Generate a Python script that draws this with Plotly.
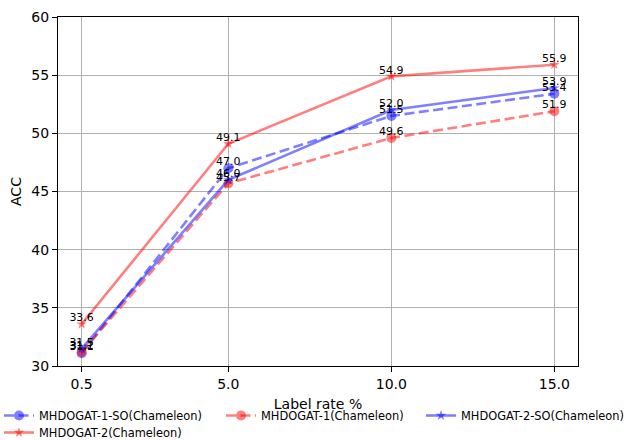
import plotly.graph_objects as go

label_rate = [0.5, 5.0, 10.0, 15.0]
tick_text = ["0.5", "5.0", "10.0", "15.0"]

mhdogat1_so = [31.1, 47.0, 51.5, 53.4]
mhdogat1 = [31.2, 45.7, 49.6, 51.9]
mhdogat2_so = [31.5, 46.0, 52.0, 53.9]
mhdogat2 = [33.6, 49.1, 54.9, 55.9]

series = [
    ("MHDOGAT-1-SO(Chameleon)", mhdogat1_so, "rgba(0,0,255,0.5)", "10px,4.5px", "circle", 10),
    ("MHDOGAT-1(Chameleon)", mhdogat1, "rgba(255,0,0,0.5)", "10px,4.5px", "circle", 10),
    ("MHDOGAT-2-SO(Chameleon)", mhdogat2_so, "rgba(0,0,255,0.5)", "solid", "star", 8),
    ("MHDOGAT-2(Chameleon)", mhdogat2, "rgba(255,0,0,0.5)", "solid", "star", 8),
]
legend_ids = ["legend", "legend2", "legend3", "legend4"]

# plot area in pixels
L, R, T, B = 58, 50, 17, 74
W, H = 628, 440
pw = W - L - R
ph = H - T - B

fig = go.Figure()
for (name, vals, color, dash, sym, size), lid in zip(series, legend_ids):
    fig.add_trace(go.Scatter(
        x=label_rate, y=vals, name=name, legend=lid,
        mode="lines+markers",
        line=dict(color=color, width=2.6, dash=dash),
        marker=dict(symbol=sym, size=size, color=color, line=dict(width=0)),
    ))
for name, vals, color, dash, sym, size in series:
    fig.add_trace(go.Scatter(
        x=label_rate, y=vals, mode="text", showlegend=False,
        text=[f"{v:.1f}" for v in vals],
        textposition="top center", hoverinfo="skip",
        textfont=dict(size=11, color="black", family="DejaVu Sans"),
    ))

def leg(px, py):
    return dict(
        orientation="h", x=(px - L) / pw, xanchor="left",
        y=-(py - (H - B)) / ph, yanchor="top",
        font=dict(size=11.4), itemwidth=30, tracegroupgap=0,
        bgcolor="rgba(0,0,0,0)", borderwidth=0,
    )

fig.update_layout(
    width=W, height=H,
    margin=dict(l=L, r=R, t=T, b=B, autoexpand=False),
    paper_bgcolor="white", plot_bgcolor="white",
    font=dict(family="DejaVu Sans", size=13, color="black"),
    legend=leg(-1, 401),
    legend2=leg(221, 401),
    legend3=leg(421, 401),
    legend4=leg(-1, 418),
    showlegend=True,
)
fig.update_xaxes(
    range=[-0.225, 15.725], tickvals=label_rate, ticktext=tick_text,
    showgrid=True, gridcolor="#b0b0b0", gridwidth=1,
    showline=True, linecolor="black", linewidth=1, mirror=True,
    ticks="outside", ticklen=5, tickcolor="black", zeroline=False,
    title=dict(text="Label rate %", font=dict(size=14), standoff=8),
    tickfont=dict(size=14),
)
fig.update_yaxes(
    range=[30, 60], tickvals=[30, 35, 40, 45, 50, 55, 60],
    showgrid=True, gridcolor="#b0b0b0", gridwidth=1,
    showline=True, linecolor="black", linewidth=1, mirror=True,
    ticks="outside", ticklen=5, tickcolor="black", zeroline=False,
    title=dict(text="ACC", font=dict(size=14), standoff=6),
    tickfont=dict(size=14),
)

fig.write_html("out.html")
